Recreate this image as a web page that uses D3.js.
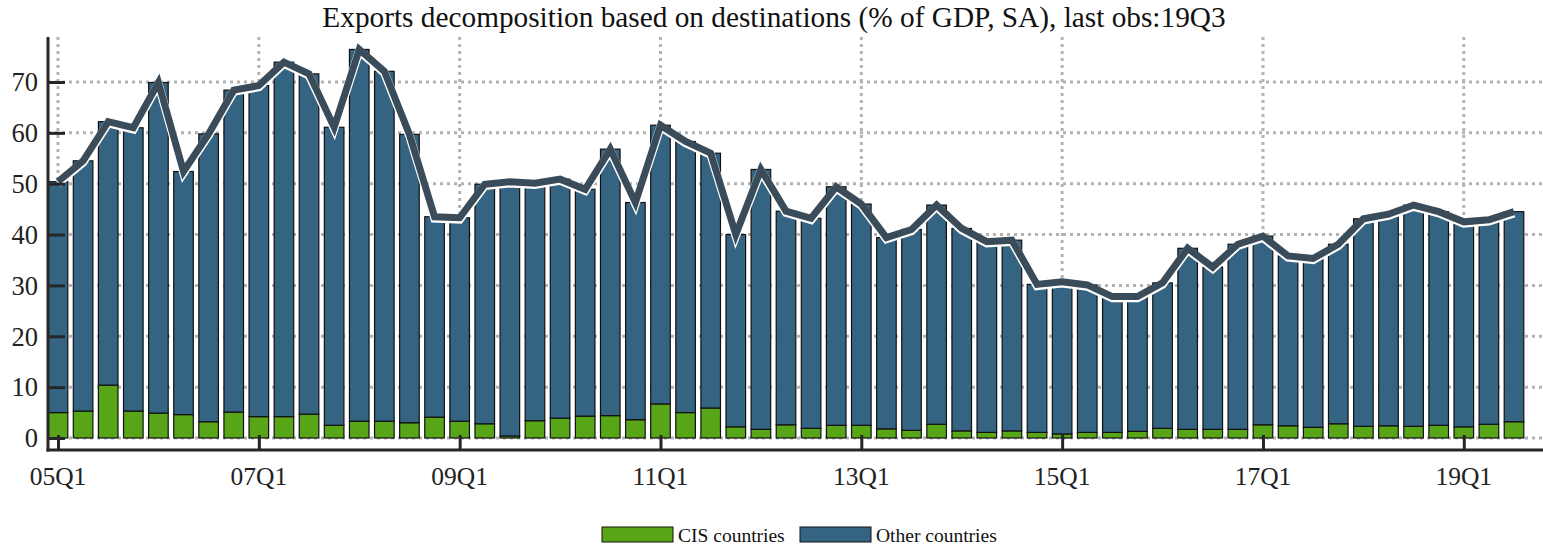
<!DOCTYPE html>
<html><head><meta charset="utf-8">
<script src="https://cdn.jsdelivr.net/npm/d3@7"></script>
<style>body{margin:0;background:#fff}svg{display:block}</style>
</head><body><svg id="c" width="1543" height="547" font-family="'Liberation Serif', 'Times New Roman', serif"></svg>
<script>
const quarters = [];
for (let y = 5; y <= 19; y++) for (let q = 1; q <= 4; q++) { if (y === 19 && q === 4) break; quarters.push(String(y).padStart(2,"0") + "Q" + q); }
const tickLabels = ["05Q1","07Q1","09Q1","11Q1","13Q1","15Q1","17Q1","19Q1"];
const yTicks = [0,10,20,30,40,50,60,70];
const cis = [5.0,5.3,10.4,5.3,4.9,4.6,3.2,5.1,4.2,4.2,4.7,2.5,3.3,3.3,3.0,4.1,3.3,2.8,0.4,3.4,3.9,4.3,4.4,3.6,6.7,5.0,5.9,2.2,1.7,2.6,1.9,2.5,2.5,1.8,1.5,2.7,1.4,1.1,1.4,1.1,0.8,1.1,1.1,1.3,1.9,1.7,1.7,1.7,2.6,2.4,2.1,2.8,2.3,2.4,2.3,2.5,2.2,2.7,3.2];
const other = [45.4,49.2,51.8,55.7,65.0,47.8,56.6,63.3,65.1,69.7,66.9,58.6,73.1,68.8,56.7,39.4,40.0,47.1,50.0,46.7,47.0,44.6,52.4,42.7,54.8,53.3,50.1,37.8,51.1,42.0,41.3,46.9,43.5,37.6,39.5,43.1,39.8,37.5,37.5,29.1,29.9,29.0,26.7,26.5,28.6,35.6,31.9,36.4,37.1,33.4,33.2,35.3,40.8,41.6,43.5,42.0,40.3,40.2,41.3];
const seriesNames = ["CIS countries","Other countries"];
const colors = ["#58a618","#356482"];

const svg = d3.select("#c");
const axX = 48, axBottom = 450;
const x = d3.scalePoint().domain(quarters).range([58, 1514]);
const bw = x.step() * 0.78;
const y = d3.scaleLinear().domain([0, 70]).range([438, 82]);
const yTop = 37;

// grid
const grid = svg.append("g").attr("stroke","#b3b3b3").attr("stroke-width",3).attr("stroke-dasharray","3,4");
yTicks.forEach(t => grid.append("line").attr("x1",axX).attr("x2",1543).attr("y1",y(t)).attr("y2",y(t)));
tickLabels.forEach(t => grid.append("line").attr("x1",x(t)).attr("x2",x(t)).attr("y1",yTop).attr("y2",y(0)));

// stacked bars
const rows = quarters.map((q,i) => ({q, cis: cis[i], other: other[i]}));
const stack = d3.stack().keys(["cis","other"])(rows);
stack.forEach((layer, li) => {
  svg.append("g").selectAll("rect").data(layer).join("rect")
    .attr("x", d => x(d.data.q) - bw/2).attr("width", bw)
    .attr("y", d => y(d[1])).attr("height", d => y(d[0]) - y(d[1]))
    .attr("fill", colors[li]).attr("stroke","#111").attr("stroke-width",1.2);
});

// total line
const line = d3.line().x(d => x(d.q)).y(d => y(d.cis + d.other));
svg.append("path").datum(rows).attr("d", line).attr("fill","none")
  .attr("stroke","#fff").attr("stroke-width",8.5).attr("stroke-linejoin","miter").attr("transform","translate(0,1.5)");
svg.append("path").datum(rows).attr("d", line).attr("fill","none")
  .attr("stroke","#3a4b5a").attr("stroke-width",7).attr("stroke-linejoin","miter");

// axes
const yAxis = svg.append("g").attr("transform",`translate(${axX},0)`)
  .call(d3.axisRight(y).tickValues(yTicks).tickSize(17).tickFormat(""));
yAxis.select(".domain").remove();
yAxis.selectAll("line").attr("stroke","#262626").attr("stroke-width",3);
svg.append("line").attr("x1",axX).attr("x2",axX).attr("y1",yTop).attr("y2",axBottom+1.5).attr("stroke","#262626").attr("stroke-width",3);
svg.append("g").selectAll("text").data(yTicks).join("text")
  .attr("x", 38).attr("y", d => y(d)).attr("dy","0.35em").attr("text-anchor","end")
  .attr("font-size",26.5).attr("fill","#222").text(d => d);

const xAxis = svg.append("g").attr("transform",`translate(0,${axBottom})`)
  .call(d3.axisTop(x).tickValues(tickLabels).tickSize(15).tickFormat(""));
xAxis.select(".domain").remove();
xAxis.selectAll("line").attr("stroke","#262626").attr("stroke-width",3);
svg.append("line").attr("x1",axX-1.5).attr("x2",1543).attr("y1",axBottom).attr("y2",axBottom).attr("stroke","#262626").attr("stroke-width",3);
svg.append("g").selectAll("text").data(tickLabels).join("text")
  .attr("x", d => x(d)).attr("y", 485).attr("text-anchor","middle")
  .attr("font-size",25.5).attr("fill","#222").text(d => d);

// title
svg.append("text").attr("x",774).attr("y",27).attr("text-anchor","middle").attr("font-size",29.3).attr("fill","#111")
  .text("Exports decomposition based on destinations (% of GDP, SA), last obs:19Q3");

// legend
const lg = svg.append("g");
const legX = [602, 800];
seriesNames.forEach((n,i) => {
  lg.append("rect").attr("x",legX[i]).attr("y",527).attr("width",71).attr("height",15).attr("fill",colors[i]).attr("stroke","#111").attr("stroke-width",1);
  lg.append("text").attr("x",legX[i]+76).attr("y",542).attr("font-size",19.5).attr("fill","#111").text(n);
});
</script></body></html>
